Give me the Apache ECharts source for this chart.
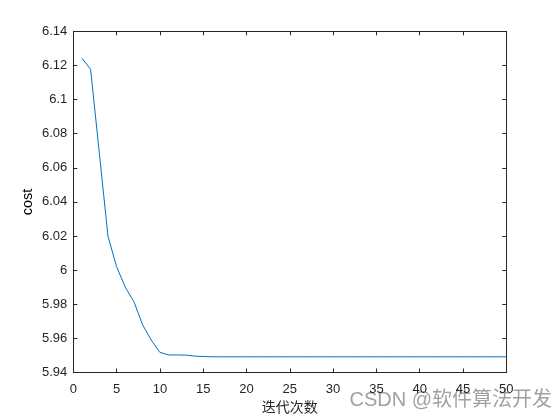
<!DOCTYPE html>
<html>
<head>
<meta charset="utf-8">
<script src="https://cdn.jsdelivr.net/npm/echarts@6/dist/echarts.min.js"></script>
<style>html,body{margin:0;padding:0;background:#fff}#c{width:560px;height:420px}</style>
</head>
<body>
<div id="c"></div>
<script>
const iterations = [1,2,3,4,5,6,7,8,9,10,11,12,13,14,15,16,17,18,19,20,21,22,23,24,25,26,27,28,29,30,31,32,33,34,35,36,37,38,39,40,41,42,43,44,45,46,47,48,49,50];
const cost = [6.1242,6.1177,6.069,6.020,6.002,5.990,5.9815,5.968,5.959,5.9518,
              5.9503,5.9503,5.9502,5.9496,5.9494,5.9492,5.9492,5.9492,5.9492,5.9492,
              5.9492,5.9492,5.9492,5.9492,5.9492,5.9492,5.9492,5.9492,5.9492,5.9492,
              5.9492,5.9492,5.9492,5.9492,5.9492,5.9492,5.9492,5.9492,5.9492,5.9492,
              5.9492,5.9492,5.9492,5.9492,5.9492,5.9492,5.9492,5.9492,5.9492,5.9492];
const xLabelText = '迭代次数';
const yLabelText = 'cost';
const watermark = 'CSDN @软件算法开发';

const axisColor = '#262626';
const labelFont = {color: axisColor, fontSize: 13, fontFamily: 'Liberation Sans, Arial, sans-serif'};
const chart = echarts.init(document.getElementById('c'), null, {renderer: 'canvas'});
const fmt = v => String(+(+v).toFixed(2));
chart.setOption({
  animation: false,
  backgroundColor: '#fff',
  grid: {left: 73.3, right: 53.7, top: 31.3, bottom: 47.5, containLabel: false},
  xAxis: [{
    type: 'value', min: 0, max: 50, interval: 5, position: 'bottom',
    axisLine: {show: true, onZero: false, lineStyle: {color: axisColor, width: 1}},
    axisTick: {show: true, inside: true, length: 4, lineStyle: {color: axisColor}},
    axisLabel: Object.assign({margin: 10, formatter: fmt}, labelFont),
    splitLine: {show: false},
    name: xLabelText, nameLocation: 'middle', nameGap: 27, nameMoveOverlap: false,
    nameTextStyle: {color: axisColor, fontSize: 14, fontFamily: 'Noto Sans CJK SC, sans-serif'}
  }, {
    type: 'value', min: 0, max: 50, interval: 5, position: 'top',
    axisLine: {show: true, onZero: false, lineStyle: {color: axisColor, width: 1}},
    axisTick: {show: true, inside: true, length: 4, lineStyle: {color: axisColor}},
    axisLabel: {show: false}, splitLine: {show: false}
  }],
  yAxis: [{
    type: 'value', min: 5.94, max: 6.14, interval: 0.02, position: 'left',
    axisLine: {show: true, onZero: false, lineStyle: {color: axisColor, width: 1}},
    axisTick: {show: true, inside: true, length: 4, lineStyle: {color: axisColor}},
    axisLabel: Object.assign({margin: 6, formatter: fmt}, labelFont),
    splitLine: {show: false},
    name: yLabelText, nameLocation: 'middle', nameGap: 38, nameRotate: 90, nameMoveOverlap: false,
    nameTextStyle: {color: '#000', fontSize: 14.5, fontFamily: 'Liberation Sans, Arial, sans-serif'}
  }, {
    type: 'value', min: 5.94, max: 6.14, interval: 0.02, position: 'right',
    axisLine: {show: true, onZero: false, lineStyle: {color: axisColor, width: 1}},
    axisTick: {show: true, inside: true, length: 4, lineStyle: {color: axisColor}},
    axisLabel: {show: false}, splitLine: {show: false}
  }],
  series: [{
    type: 'line', xAxisIndex: 0, yAxisIndex: 0,
    data: iterations.map((x, i) => [x, cost[i]]),
    showSymbol: false, symbol: 'none',
    lineStyle: {color: '#0072BD', width: 1}
  }],
  graphic: [{
    type: 'text', right: 8, top: 390,
    style: {text: watermark, fill: 'rgba(120,120,120,0.7)', fontSize: 20,
            fontFamily: 'Liberation Sans, Noto Sans CJK SC, sans-serif'}
  }]
});
</script>
</body>
</html>
